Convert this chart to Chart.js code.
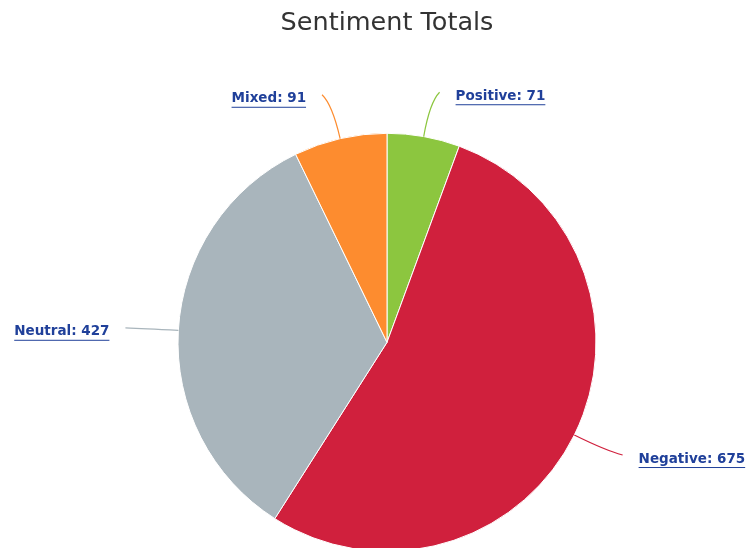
<!DOCTYPE html>
<html>
<head>
<meta charset="utf-8">
<title>Sentiment Totals</title>
<script src="https://cdn.jsdelivr.net/npm/chart.js@4/dist/chart.umd.min.js"></script>
<style>
  html, body { margin: 0; padding: 0; background: #fff; overflow: hidden; }
  #wrap { position: relative; width: 749px; height: 551px; }
</style>
</head>
<body>
<div id="wrap"><canvas id="pie"></canvas></div>
<script>
  // data
  const categories = ['Positive', 'Negative', 'Neutral', 'Mixed'];
  const totals = [71, 675, 427, 91];
  const sliceColors = ['#8cc63f', '#d0203d', '#a9b5bc', '#fd8c2f'];

  // outside labels with soft connectors, drawn after the slices
  const outsideLabels = {
    id: 'outsideLabels',
    afterDatasetsDraw(chart, args, opts) {
      const ctx = chart.ctx;
      const meta = chart.getDatasetMeta(0);
      ctx.save();
      meta.data.forEach((arc, i) => {
        const p = arc.getProps(['x', 'y', 'startAngle', 'endAngle', 'outerRadius'], true);
        const mid = (p.startAngle + p.endAngle) / 2;
        const r = p.outerRadius;
        const cos = Math.cos(mid), sin = Math.sin(mid);
        const right = cos >= 0;
        const side = right ? 1 : -1;

        const ex = p.x + r * cos, ey = p.y + r * sin;
        const cx = p.x + (r + opts.distance - 10) * cos, cy = p.y + (r + opts.distance - 10) * sin;
        const lx = p.x + (r + opts.distance) * cos + side * 8, ly = p.y + (r + opts.distance) * sin;

        // connector
        ctx.strokeStyle = sliceColors[i];
        ctx.lineWidth = 1.2;
        ctx.beginPath();
        ctx.moveTo(ex, ey);
        ctx.quadraticCurveTo(cx, cy, lx, ly);
        ctx.stroke();

        // label text
        const text = categories[i] + ': ' + totals[i];
        ctx.font = opts.font;
        ctx.fillStyle = opts.color;
        ctx.textBaseline = 'middle';
        ctx.textAlign = right ? 'left' : 'right';
        const tx = lx + side * 16, ty = ly + 4;
        ctx.fillText(text, tx, ty);

        // underline
        const w = ctx.measureText(text).width;
        const x0 = right ? tx : tx - w;
        ctx.strokeStyle = opts.color;
        ctx.lineWidth = 1;
        ctx.beginPath();
        ctx.moveTo(x0, ty + 8.5);
        ctx.lineTo(x0 + w, ty + 8.5);
        ctx.stroke();
      });
      ctx.restore();
    }
  };

  new Chart(document.getElementById('pie'), {
    type: 'pie',
    data: {
      labels: categories,
      datasets: [{
        data: totals,
        backgroundColor: sliceColors,
        borderColor: '#ffffff',
        borderWidth: 1,
        radius: 209
      }]
    },
    options: {
      responsive: true,
      maintainAspectRatio: false,
      animation: false,
      events: [],
      layout: { padding: { left: 25, right: 0, top: 0, bottom: 0 } },
      plugins: {
        legend: { display: false },
        tooltip: { enabled: false },
        title: {
          display: true,
          text: 'Sentiment Totals',
          fullSize: false,
          color: '#333333',
          font: { family: 'DejaVu Sans', size: 25.5, weight: 'normal', lineHeight: 1.2 },
          padding: { top: 8, bottom: 95 }
        },
        outsideLabels: {
          distance: 45,
          font: 'bold 13.5px "DejaVu Sans"',
          color: '#20409a'
        }
      }
    },
    plugins: [outsideLabels]
  });
</script>
</body>
</html>
